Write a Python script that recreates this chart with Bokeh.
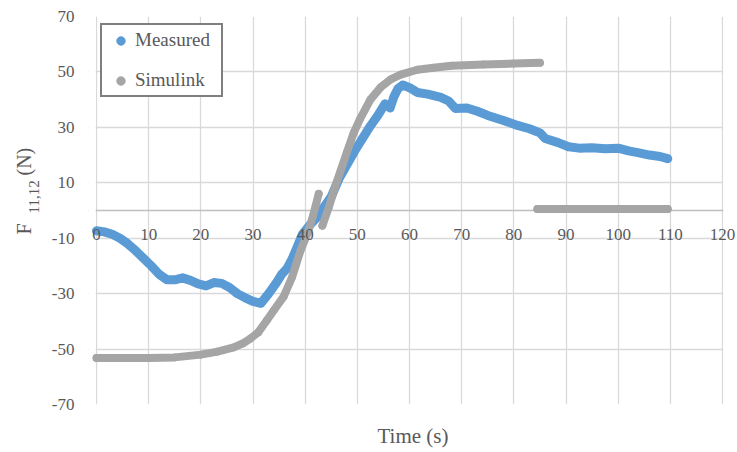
import math
from bokeh.plotting import figure
from bokeh.layouts import row
from bokeh.models import (FixedTicker, Span, Legend, LegendItem, BoxAnnotation, Title)
from bokeh.core.properties import value
from bokeh.embed import file_html
from bokeh.resources import INLINE

nan = float("nan")

# ---- data ----
meas_t = [0, 1.5, 3, 4.5, 6, 7.5, 9, 10.5, 12, 13.5, 15, 16.5, 18, 19.5, 21, 22.5, 24, 25.5,
          27, 28.5, 30, 31.5, 33, 34.5, 35.5, 36.5, 37.5, 38.5, 39.5, 41, 42.5, 43.5, 45, 46.5,
          48, 49.5, 51, 52.5, 54, 55.3, 56.3, 57, 57.8, 58.7, 60, 61.5, 63.5, 66, 67.5, 68.8,
          71, 73, 75, 78, 80.7, 83, 85, 86, 88.5, 90.5, 92.5, 95, 97.5, 100, 102, 104, 106,
          108, 109.5]
meas_f = [-7.3, -7.7, -8.6, -10, -12, -14.5, -17.2, -20, -23, -25, -25, -24.3, -25.2, -26.5,
          -27.2, -26, -26.3, -27.8, -30, -31.5, -32.8, -33.5, -30, -26, -23, -21, -17.5, -13,
          -8.5, -5, -2, 1, 5, 11.5, 16.5, 21.5, 26, 30.5, 34.5, 38.5, 37, 41, 44, 45.3, 44.3,
          42.6, 42, 40.8, 39.5, 36.8, 37, 35.8, 34.3, 32.5, 30.7, 29.5, 28, 26, 24.5, 23,
          22.5, 22.6, 22.3, 22.5, 21.5, 20.8, 20, 19.5, 18.7]

sim_t = [0, 10, 15, 20, 23, 26.3, 28, 29.5, 31, 32.7, 34, 35.9, 37.5, 39.1, 40.5, 41.5, 42.6,
         nan,
         43.3, 44.5, 46, 46.8, 48, 49.3, 50.5, 52.5, 54.5, 56.4, 58.3, 61.5, 64.6, 68, 74.2,
         80, 85,
         nan,
         84.5, 109.5]
sim_f = [-53.2, -53.2, -53, -52, -51, -49.4, -48, -46.2, -44, -39.5, -36, -31, -24, -14.5,
         -8, -2, 6,
         nan,
         -5.5, 1, 10, 14.4, 21, 28, 33, 40, 44.5, 47.3, 49, 50.8, 51.5, 52.2, 52.7, 53, 53.3,
         nan,
         0.5, 0.5]

x_ticks = [0, 10, 20, 30, 40, 50, 60, 70, 80, 90, 100, 110, 120]
x_tick_labels = [str(v) for v in x_ticks]
y_ticks = [-70, -50, -30, -10, 10, 30, 50, 70]
y_tick_labels = [str(v) for v in y_ticks]

BLUE = "#5B9BD5"
GRAY = "#A5A5A5"
TXT = "#595959"
FONT = "Liberation Serif"

PX = 626 / 120.0          # pixels per x unit
X0 = -8 / PX              # small extension left of 0 (masked)
X1 = 120 + 15 / PX        # extension right of 120 (masked)

p = figure(frame_width=649, frame_height=388, x_range=(X0, X1), y_range=(-70, 70),
           output_backend="svg", toolbar_location=None,
           min_border_left=40, min_border_right=0, min_border_top=16, min_border_bottom=48)
p.outline_line_color = None
p.background_fill_color = "white"
p.border_fill_color = "white"

# grid
p.xgrid.ticker = FixedTicker(ticks=x_ticks)
p.ygrid.ticker = FixedTicker(ticks=y_ticks)
for g in (p.xgrid, p.ygrid):
    g.grid_line_color = "#D9D9D9"
    g.grid_line_width = 1.3

# axes
p.xaxis.visible = False
ya = p.yaxis[0]
ya.ticker = FixedTicker(ticks=y_ticks)
ya.major_label_overrides = {v: s for v, s in zip(y_ticks, y_tick_labels)}
ya.axis_line_color = None
ya.major_tick_line_color = None
ya.minor_tick_line_color = None
ya.major_label_standoff = 8
ya.major_label_text_font = FONT
ya.major_label_text_font_size = "17px"
ya.major_label_text_color = TXT

# horizontal axis line at y = 0
p.add_layout(Span(location=0, dimension="width", line_color="#BFBFBF", line_width=1.5,
                  level="underlay"))
# white masks outside 0..120 so gridlines stop at the plot area
p.add_layout(BoxAnnotation(right=-0.15, fill_color="white", fill_alpha=1,
                           line_color=None, level="underlay"))
p.add_layout(BoxAnnotation(left=120.15, fill_color="white", fill_alpha=1,
                           line_color=None, level="underlay"))

# series
p.line(meas_t, meas_f, line_color=BLUE, line_width=9, line_join="round", line_cap="round")
meas_pts = p.scatter(meas_t, meas_f, size=7, color=BLUE)
p.line(sim_t, sim_f, line_color=GRAY, line_width=8, line_join="round", line_cap="round")
sim_pts = p.scatter(sim_t, sim_f, size=7, color=GRAY)

# x tick labels next to the y=0 axis
p.text(x=x_ticks, y=[0] * len(x_ticks), text=x_tick_labels, text_align="center",
       text_baseline="middle", y_offset=24, text_font=value(FONT),
       text_font_size="17px", text_color=TXT)

# x axis title
p.add_layout(Title(text="Time (s)", align="center", text_font=FONT, text_font_size="21px",
                   text_font_style="normal", text_color=TXT, standoff=35), "below")

legend = Legend(items=[LegendItem(label="Measured", renderers=[meas_pts]),
                       LegendItem(label="Simulink", renderers=[sim_pts])],
                location=(12, 307), padding=4, spacing=18, glyph_width=29, glyph_height=21,
                label_height=21, label_width=82, label_standoff=0, margin=0,
                border_line_color="black", border_line_width=2,
                background_fill_color="white", background_fill_alpha=1,
                label_text_font=FONT, label_text_font_size="19px", label_text_color=TXT)
p.add_layout(legend)

# y axis title (with subscript) in a narrow side panel; data coords = page pixels
yl = figure(frame_width=48, frame_height=388, x_range=(0, 48), y_range=(452 - 404, 452 - 16),
            output_backend="svg", toolbar_location=None,
            min_border_left=0, min_border_right=0, min_border_top=16, min_border_bottom=48)
yl.axis.visible = False
yl.grid.visible = False
yl.outline_line_color = None
yl.border_fill_color = "white"
yl_text = ["F", "11,12", "(N)"]
yl_x = [23, 33.5, 23]
yl_y = [452 - 234, 452 - 213, 452 - 175]
yl_size = ["20px", "15px", "20px"]
yl.text(x=yl_x, y=yl_y, text=yl_text, angle=math.pi / 2, text_align="left",
        text_baseline="alphabetic", text_font=value(FONT), text_font_size=yl_size,
        text_color=TXT)

layout = row(yl, p, spacing=0)
open("out.html", "w").write(file_html(layout, INLINE))
